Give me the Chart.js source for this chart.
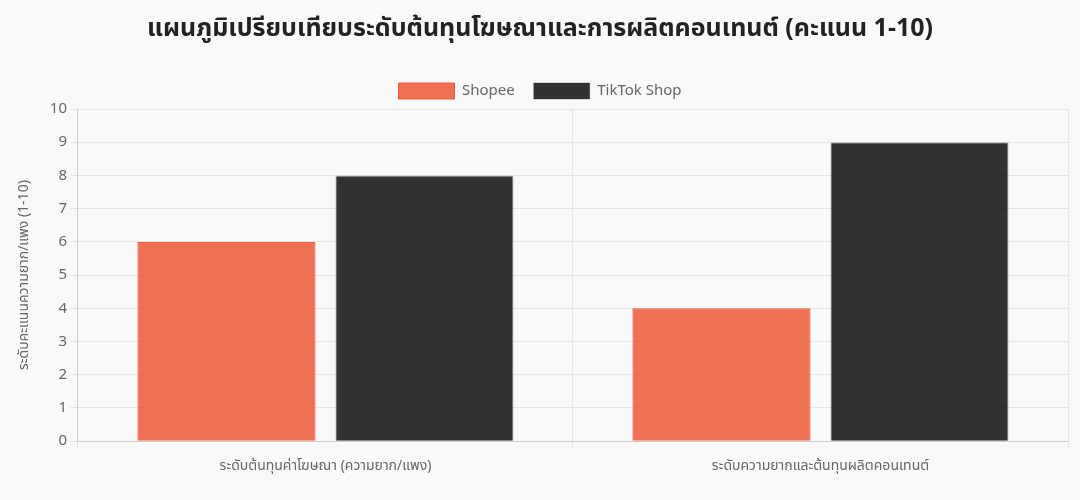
<!DOCTYPE html>
<html lang="th">
<head>
<meta charset="utf-8">
<script src="https://cdn.jsdelivr.net/npm/chart.js@4/dist/chart.umd.min.js"></script>
<style>
  html, body { margin: 0; padding: 0; background: #f8f9fa; }
  #wrap { width: 1080px; height: 500px; position: relative; }
</style>
</head>
<body>
<div id="wrap"><canvas id="c"></canvas></div>
<script>
const categories = ['ระดับต้นทุนค่าโฆษณา (ความยาก/แพง)', 'ระดับความยากและต้นทุนผลิตคอนเทนต์'];
const shopeeScores = [6, 4];
const tiktokScores = [8, 9];
const chartTitle = 'แผนภูมิเปรียบเทียบระดับต้นทุนโฆษณาและการผลิตคอนเทนต์ (คะแนน 1-10)';
const yAxisTitle = 'ระดับคะแนนความยาก/แพง (1-10)';

const FONT = "'Noto Sans', 'Noto Sans Thai', 'DejaVu Sans', sans-serif";
Chart.defaults.font.family = FONT;
Chart.defaults.color = '#666';

new Chart(document.getElementById('c'), {
  type: 'bar',
  data: {
    labels: categories,
    datasets: [
      {
        label: 'Shopee',
        data: shopeeScores,
        backgroundColor: 'rgba(238, 77, 45, 0.8)',
        borderColor: 'rgba(238, 77, 45, 0.9)',
        borderWidth: 1
      },
      {
        label: 'TikTok Shop',
        data: tiktokScores,
        backgroundColor: 'rgba(0, 0, 0, 0.8)',
        borderColor: 'rgba(0, 0, 0, 0.25)',
        borderWidth: 1
      }
    ]
  },
  options: {
    responsive: true,
    maintainAspectRatio: false,
    animation: false,
    layout: { padding: { left: 12, right: 12, top: 4, bottom: 18 } },
    plugins: {
      title: {
        display: true,
        text: chartTitle,
        color: '#222',
        font: { size: 25, weight: 'bold', family: FONT },
        padding: { top: 10, bottom: 20 }
      },
      legend: {
        position: 'top',
        labels: { font: { size: 15 }, color: '#666', boxWidth: 56, boxHeight: 16, padding: 19 }
      },
      tooltip: { enabled: false }
    },
    scales: {
      x: {
        grid: { color: '#e5e5e5', offset: true },
        ticks: { font: { size: 14 }, color: '#666', padding: 8 }
      },
      y: {
        min: 0,
        max: 10,
        ticks: { stepSize: 1, font: { size: 15 }, color: '#666' },
        grid: { color: '#e5e5e5' },
        title: { display: true, text: yAxisTitle, font: { size: 14 }, color: '#666', padding: { top: 4, bottom: 14 } }
      }
    }
  }
});
</script>
</body>
</html>
